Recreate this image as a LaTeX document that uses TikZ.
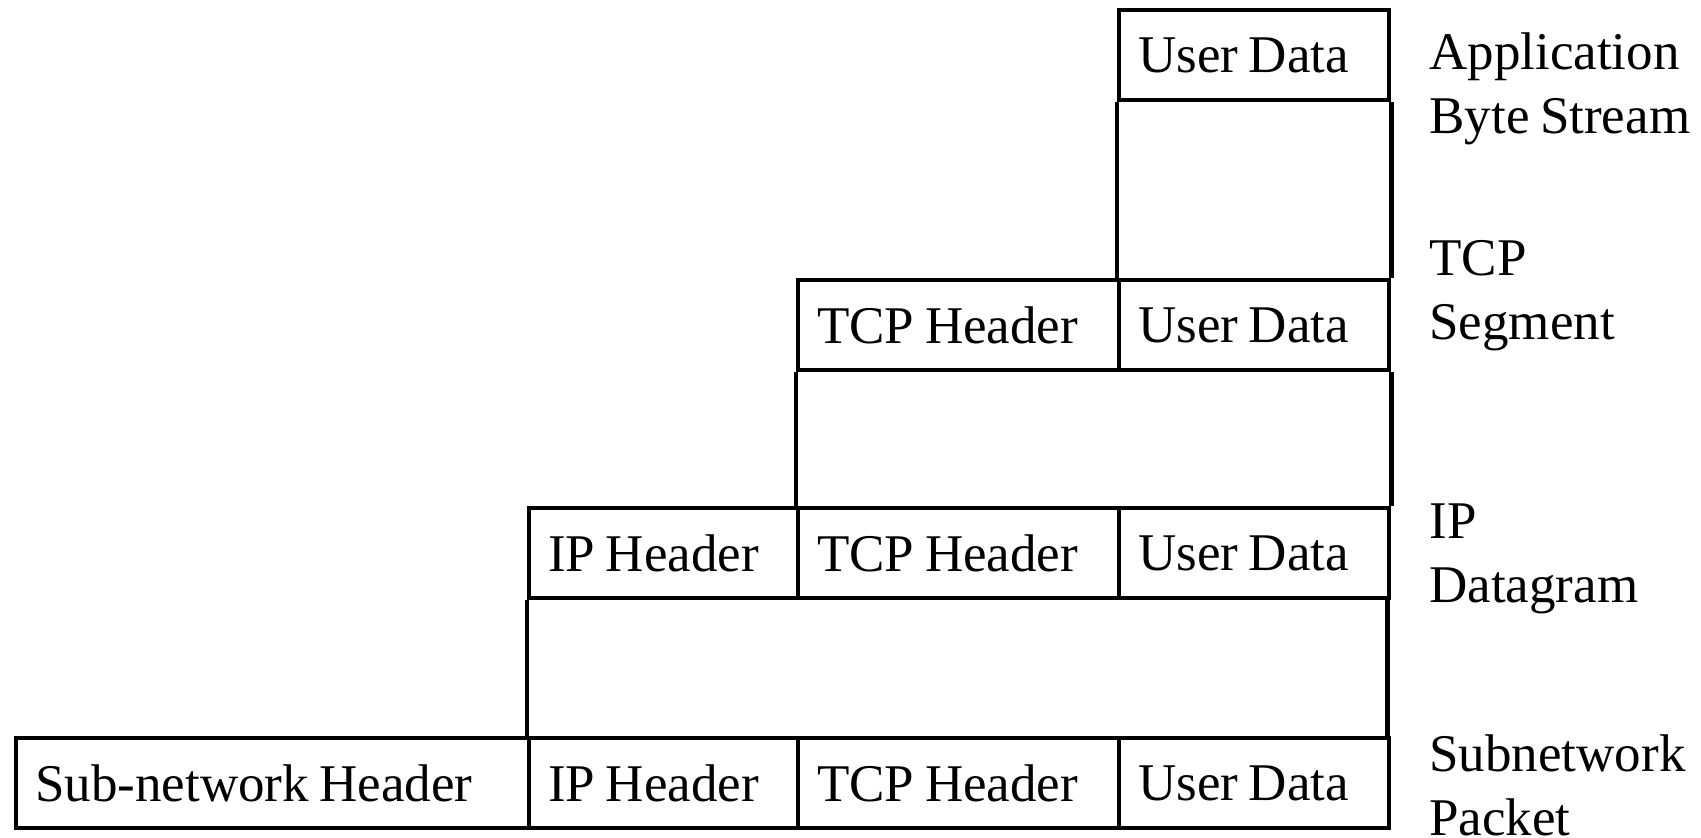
\documentclass[tikz,border=0pt]{standalone}
\usepackage{fontspec}
\setmainfont{Liberation Serif}[WordSpace=0.8]
\usepackage{tikz}

\begin{document}
\begin{tikzpicture}[x=0.5pt, y=-0.5pt,
		every node/.style={font=\fontsize{26.5}{32}\selectfont},
		cell/.style={draw, line width=2.2pt, anchor=north west, minimum height=45pt, inner xsep=9.5pt, inner ysep=0pt, align=flush left},
		layer/.style={anchor=west, inner sep=0pt, align=flush left}]
			\useasboundingbox (0,0) rectangle (1701,838);
			
			\node[cell, text width=116pt] (ud1) at (1117,8) {User Data};
			
			\node[cell, text width=141.5pt] (th2) at (796,278) {TCP Header};
			\node[cell, text width=116pt] (ud2) at (1117,278) {User Data};
			
			\node[cell, text width=115.5pt] (ih3) at (527,506) {IP Header};
			\node[cell, text width=141.5pt] (th3) at (796,506) {TCP Header};
			\node[cell, text width=116pt] (ud3) at (1117,506) {User Data};
			
			\node[cell, text width=237.5pt] (sh4) at (14,736) {Sub-network Header};
			\node[cell, text width=115.5pt] (ih4) at (527,736) {IP Header};
			\node[cell, text width=141.5pt] (th4) at (796,736) {TCP Header};
			\node[cell, text width=116pt] (ud4) at (1117,736) {User Data};
			
			\node[layer] (app) at (1429,89) {Application\\Byte Stream};
			\node[layer] (seg) at (1429,296) {TCP\\Segment};
			\node[layer] (dgram) at (1429,559) {IP\\Datagram};
			\node[layer] (pkt) at (1429,785) {Subnetwork\\Packet};
			
			\draw[line width=2.2pt] (ud1.south west) -- (ud2.north west);
			\draw[line width=2.2pt] (ud1.south east) -- (ud2.north east);
			
			\draw[line width=2.2pt] (th2.south west) -- (th3.north west);
			\draw[line width=2.2pt] (ud2.south east) -- (ud3.north east);
			
			\draw[line width=2.2pt] (ih3.south west) -- (ih4.north west);
			\draw[line width=2.2pt] ([xshift=-2pt]ud3.south east) -- ([xshift=-2pt]ud4.north east);
		\end{tikzpicture}
\end{document}
